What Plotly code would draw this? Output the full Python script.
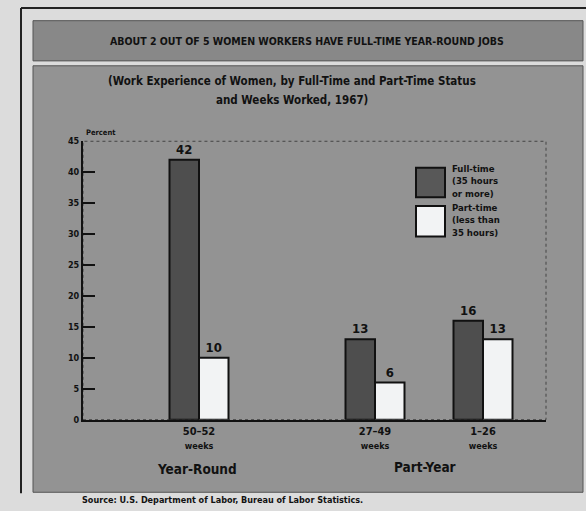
import plotly.graph_objects as go

# ---- data ----
week_ranges = ["50–52", "27–49", "1–26"]
full_time = [42, 13, 16]
part_time = [10, 6, 13]
y_ticks = [0, 5, 10, 15, 20, 25, 30, 35, 40, 45]
groups = ["Year-Round", "Part-Year"]

# ---- layout helpers (pixel -> paper) ----
W, H = 586, 511
def px(x):
    return x / W
def py(y):
    return 1 - y / H

PLOT_L, PLOT_R, PLOT_T, PLOT_B = 83, 546, 139, 423
slot_centers = [116, 292, 400]   # x-axis units == pixels from plot left
BAR_W = 29.5

FONT = "DejaVu Sans Condensed, DejaVu Sans, sans-serif"

fig = go.Figure()
fig.add_trace(go.Bar(
    x=slot_centers, y=full_time, name="Full-time",
    width=BAR_W, offset=-BAR_W,
    marker=dict(color="#4e4e4e", line=dict(color="#111111", width=2)),
    text=[f"<b>{v}</b>" for v in full_time], textposition="outside",
    textfont=dict(size=13, color="#111111", family=FONT),
    cliponaxis=False, showlegend=False,
))
fig.add_trace(go.Bar(
    x=slot_centers, y=part_time, name="Part-time",
    width=BAR_W, offset=0,
    marker=dict(color="#f2f3f4", line=dict(color="#111111", width=2)),
    text=[f"<b>{v}</b>" for v in part_time], textposition="outside",
    textfont=dict(size=13, color="#111111", family=FONT),
    cliponaxis=False, showlegend=False,
))

shapes = []
# outer frame lines
shapes.append(dict(type="line", xref="paper", yref="paper", x0=px(21), x1=px(21), y0=py(3), y1=py(498),
                   line=dict(color="#222222", width=2)))
shapes.append(dict(type="line", xref="paper", yref="paper", x0=px(21), x1=1, y0=py(3), y1=py(3),
                   line=dict(color="#222222", width=2)))
# title band
shapes.append(dict(type="rect", xref="paper", yref="paper", x0=px(33), x1=px(583), y0=py(16), y1=py(57),
                   fillcolor="#888888", line=dict(color="#555555", width=1), layer="below"))
# main panel
shapes.append(dict(type="rect", xref="paper", yref="paper", x0=px(33), x1=px(583), y0=py(62), y1=py(497),
                   fillcolor="#939393", line=dict(color="#555555", width=1), layer="below"))
# plot area dotted border (top/right)
shapes.append(dict(type="rect", xref="paper", yref="paper", x0=px(PLOT_L), x1=px(PLOT_R), y0=py(PLOT_B), y1=py(PLOT_T),
                   line=dict(color="#444444", width=1, dash="dot"), layer="below"))
# legend swatches
shapes.append(dict(type="rect", xref="paper", yref="paper", x0=px(416), x1=px(445), y0=py(196), y1=py(166),
                   fillcolor="#585858", line=dict(color="#111111", width=2)))
shapes.append(dict(type="rect", xref="paper", yref="paper", x0=px(416), x1=px(445), y0=py(236), y1=py(205),
                   fillcolor="#f2f3f4", line=dict(color="#111111", width=2)))

annotations = []
def ann(text, x, y, size, xanchor="center", yanchor="middle", color="#111111", align="center"):
    annotations.append(dict(text=text, x=px(x), y=py(y), xref="paper", yref="paper",
                            xanchor=xanchor, yanchor=yanchor, showarrow=False, align=align,
                            font=dict(size=size, color=color, family=FONT)))

ann("<b>ABOUT 2 OUT OF 5 WOMEN WORKERS HAVE FULL-TIME YEAR-ROUND JOBS</b>", 307, 37, 10.5)
ann("<b>(Work Experience of Women, by Full-Time and Part-Time Status</b>", 292, 78, 11.5)
ann("<b>and Weeks Worked, 1967)</b>", 292, 97, 11.5)
ann("<b>Percent</b>", 84, 130, 7.5, xanchor="left")
ann("<b>Full-time<br>(35 hours<br>or more)</b>", 450, 180, 9.5, xanchor="left", align="left")
ann("<b>Part-time<br>(less than<br>35 hours)</b>", 450, 219, 9.5, xanchor="left", align="left")
ann(f"<b>{groups[0]}</b>", 197, 473, 13.5)
ann(f"<b>{groups[1]}</b>", 425, 471, 13.5)
ann("<b>Source: U.S. Department of Labor, Bureau of Labor Statistics.</b>", 80, 505, 9, xanchor="left")

fig.update_layout(
    width=W, height=H, margin=dict(l=0, r=0, t=0, b=0),
    paper_bgcolor="#dcdcdc", plot_bgcolor="#e3e5e7",
    barmode="overlay", showlegend=False,
    shapes=shapes, annotations=annotations,
    font=dict(family=FONT, color="#111111"),
    xaxis=dict(domain=[px(PLOT_L), px(PLOT_R)], range=[0, PLOT_R - PLOT_L],
               tickvals=slot_centers,
               ticktext=[f"<b>{c}</b><br><b><span style='font-size:9px'>weeks</span></b>" for c in week_ranges],
               ticks="", showgrid=False, zeroline=False,
               showline=True, linecolor="#111111", linewidth=2,
               tickfont=dict(size=11, color="#111111", family=FONT)),
    yaxis=dict(domain=[py(PLOT_B), py(PLOT_T)], range=[0, 45],
               tickvals=y_ticks, ticktext=[f"<b>{t}</b>" for t in y_ticks],
               ticks="inside", ticklen=12, tickwidth=2, tickcolor="#111111",
               showgrid=False, zeroline=False,
               showline=True, linecolor="#111111", linewidth=2,
               tickfont=dict(size=9, color="#111111", family=FONT)),
)

fig.write_html("out.html")
